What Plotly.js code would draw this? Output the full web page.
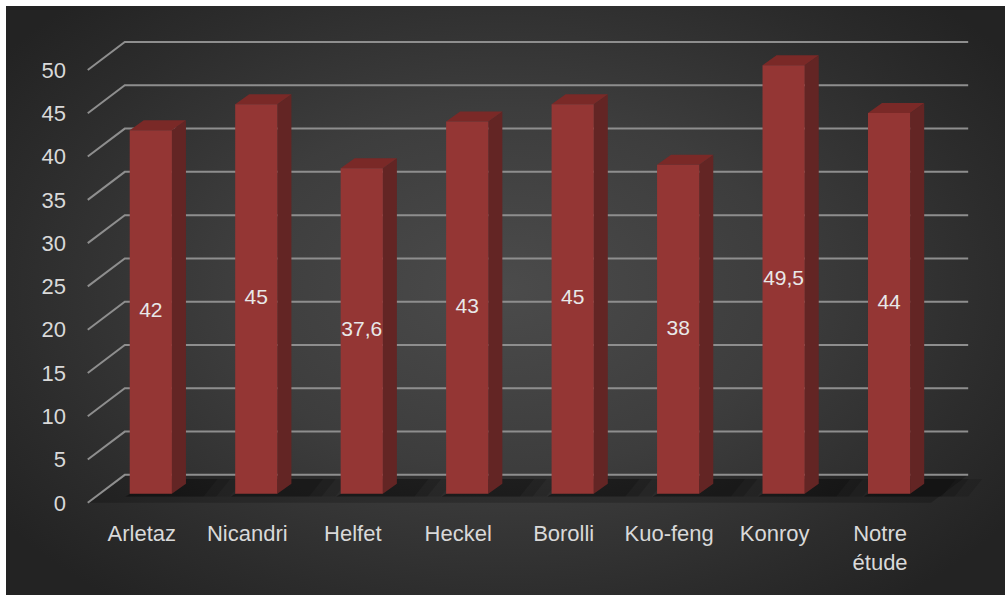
<!DOCTYPE html>
<html>
<head>
<meta charset="utf-8">
<script src="https://cdn.plot.ly/plotly-3.0.1.min.js"></script>
<style>
  html, body { margin: 0; padding: 0; background: #ffffff; width: 1005px; height: 595px; overflow: hidden; }
  #chart {
    position: absolute; left: 6px; top: 6px; width: 999px; height: 589px;
    background: radial-gradient(ellipse 62% 68% at 50% 48%, #4b4b4b 0%, #3d3d3d 45%, #2c2c2c 80%, #232323 100%);
  }
</style>
</head>
<body>
<div id="chart"></div>
<script>
// ---- data ----
const categories = ["Arletaz", "Nicandri", "Helfet", "Heckel", "Borolli", "Kuo-feng", "Konroy", "Notre<br>étude"];
const values = [42, 45, 37.6, 43, 45, 38, 49.5, 44];
const yTicks = [0, 5, 10, 15, 20, 25, 30, 35, 40, 45, 50];
const yTickLabels = ["0", "5", "10", "15", "20", "25", "30", "35", "40", "45", "50"];

// ---- 3D style parameters (axis units) ----
const halfW = 0.2;      // half width of bar front face
const dX = 0.133;       // depth offset in x
const dY = 1.155;       // depth offset in y
const frontX = -0.598, frontDY = -1.04;  // front-left end of gridlines
const backX = -0.247, backDY = 2.19;     // back wall
const rightX = 7.75;

const idx = categories.map((c, i) => i);
const traces = [];

// floor
traces.push({
  type: "scatter", mode: "none", fill: "toself", fillcolor: "rgba(0,0,0,0.2)",
  x: [frontX, rightX - (backX - frontX), rightX, backX, frontX],
  y: [frontDY, frontDY, backDY, backDY, frontDY],
  hoverinfo: "skip", showlegend: false
});

// gridlines
const gx = [], gy = [];
yTicks.forEach(v => {
  gx.push(frontX, backX, rightX, null);
  gy.push(v + frontDY, v + backDY, v + backDY, null);
});
traces.push({
  type: "scatter", mode: "lines", x: gx, y: gy,
  line: { color: "#8e8e8e", width: 2 }, hoverinfo: "skip", showlegend: false
});

// soft shadows on floor (layered)
[[0.55, 0.12], [0.42, 0.14], [0.30, 0.16]].forEach(([ext, op]) => {
  const sx = [], sy = [];
  idx.forEach(i => {
    sx.push(i - halfW - 0.04, i + halfW + ext, i + halfW + ext + dX, i - halfW + dX + 0.12, i - halfW - 0.04, null);
    sy.push(-0.3, -0.3, 1.7, 1.7, -0.3, null);
  });
  traces.push({
    type: "scatter", mode: "none", fill: "toself", fillcolor: "rgba(0,0,0," + op + ")",
    x: sx, y: sy, hoverinfo: "skip", showlegend: false
  });
});

// side faces
const sideX = [], sideY = [];
idx.forEach(i => {
  const v = values[i];
  sideX.push(i + halfW, i + halfW + dX, i + halfW + dX, i + halfW, i + halfW, null);
  sideY.push(0, dY, v + dY, v, 0, null);
});
traces.push({
  type: "scatter", mode: "none", fill: "toself", fillcolor: "#632524",
  x: sideX, y: sideY, hoverinfo: "skip", showlegend: false
});

// top faces
const topX = [], topY = [];
idx.forEach(i => {
  const v = values[i];
  topX.push(i - halfW, i + halfW, i + halfW + dX, i - halfW + dX, i - halfW, null);
  topY.push(v, v, v + dY, v + dY, v, null);
});
traces.push({
  type: "scatter", mode: "none", fill: "toself", fillcolor: "#7a2927",
  x: topX, y: topY, hoverinfo: "skip", showlegend: false
});

// front faces
const frX = [], frY = [];
idx.forEach(i => {
  const v = values[i];
  frX.push(i - halfW, i + halfW, i + halfW, i - halfW, i - halfW, null);
  frY.push(0, 0, v, v, 0, null);
});
traces.push({
  type: "scatter", mode: "none", fill: "toself", fillcolor: "#943634",
  x: frX, y: frY, hoverinfo: "skip", showlegend: false
});

// data labels
traces.push({
  type: "scatter", mode: "text", x: idx, y: values.map(v => v / 2),
  text: values.map(v => String(v).replace(".", ",")),
  textfont: { family: "Liberation Sans, Arial, sans-serif", size: 21, color: "#e8e8e8" },
  textposition: "middle center", hoverinfo: "skip", showlegend: false
});

const layout = {
  width: 999, height: 589,
  margin: { l: 71, r: 21, t: 29, b: 83 },
  paper_bgcolor: "rgba(0,0,0,0)", plot_bgcolor: "rgba(0,0,0,0)",
  font: { family: "Liberation Sans, Arial, sans-serif", size: 22, color: "#d9d9d9" },
  showlegend: false,
  xaxis: {
    range: [-0.7, 7.9], showgrid: false, zeroline: false, showline: false,
    tickvals: idx, ticktext: categories, ticks: "", ticklabelshift: -9,
    ticklabelstandoff: 6,
    tickfont: { size: 22, color: "#d9d9d9" }, fixedrange: true
  },
  yaxis: {
    range: [-2.1, 53], showgrid: false, zeroline: false, showline: false,
    tickvals: yTicks.map(v => v + frontDY), ticktext: yTickLabels, ticks: "",
    ticklabelstandoff: 10,
    tickfont: { size: 22, color: "#d9d9d9" }, fixedrange: true
  }
};

Plotly.newPlot("chart", traces, layout, { displayModeBar: false, staticPlot: true });
</script>
</body>
</html>
